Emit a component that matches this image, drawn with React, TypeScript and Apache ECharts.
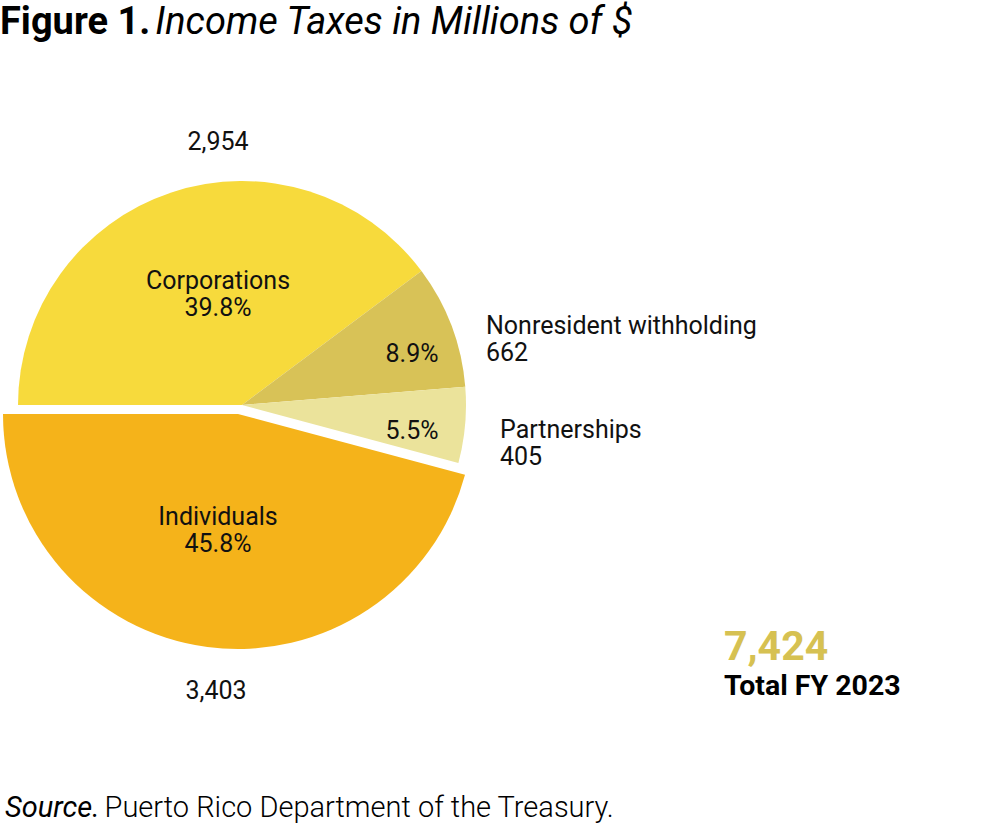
import React, { useEffect, useRef } from "react";
import * as echarts from "echarts";

const categories = ["Corporations", "Nonresident withholding", "Partnerships", "Individuals"];
const values = [2954, 662, 405, 3403];
const colors = ["#F7DA3C", "#D8C257", "#EBE39B", "#F5B31A"];
const totalLabel = "7,424";
const totalCaption = "Total FY 2023";

const FONT = "Roboto, 'Noto Sans', sans-serif";
const CENTER: [number, number] = [242, 405];
const CENTER_EX: [number, number] = [238, 414];
const R = 224;
const R_EX = 235;

// label anchors (layout only)
const insideAnchors: Record<number, [number, number]> = {
  0: [218, 294],
  1: [412, 353],
  2: [412, 430],
  3: [218, 530],
};
const outsideAnchors: Record<number, [number, number, string]> = {
  0: [218, 141, "center"],
  1: [486, 339, "left"],
  2: [500, 443, "left"],
  3: [216, 690, "center"],
};

const fmt = (v: number) => v.toLocaleString("en-US");

export default function App() {
  const ref = useRef<HTMLDivElement>(null);
  useEffect(() => {
    if (!ref.current) return;
    const chart = echarts.init(ref.current, null, { renderer: "svg" });
    const mk = (visibleIdx: number[]) =>
      categories.map((name, i) => ({
        name,
        value: values[i],
        itemStyle: { color: visibleIdx.includes(i) ? colors[i] : "rgba(0,0,0,0)" },
      }));
    const labelBase = {
      color: "#111",
      fontFamily: FONT,
      fontSize: 25,
      lineHeight: 27,
    };
    chart.setOption({
      animation: false,
      title: [
        {
          text: "{b|Figure 1.} {i|Income Taxes in Millions of $}",
          left: 0,
          top: 2,
          padding: 0,
          textStyle: {
            rich: {
              b: { fontFamily: FONT, fontWeight: "bold", fontSize: 38, color: "#000" },
              i: { fontFamily: FONT, fontStyle: "italic", fontWeight: "normal", fontSize: 38, color: "#000" },
            },
          },
        },
        {
          text: "{i|Source.} {r|Puerto Rico Department of the Treasury.}",
          left: 5,
          top: 792,
          padding: 0,
          textStyle: {
            rich: {
              i: { fontFamily: FONT, fontStyle: "italic", fontWeight: "normal", fontSize: 29, color: "#000" },
              r: { fontFamily: FONT, fontWeight: 300, fontSize: 29, color: "#000" },
            },
          },
        },
        {
          text: totalLabel,
          left: 724,
          top: 625,
          padding: 0,
          textStyle: { fontFamily: FONT, fontWeight: "bold", fontSize: 41, color: "#D6C152" },
        },
        {
          text: totalCaption,
          left: 724,
          top: 671,
          padding: 0,
          textStyle: { fontFamily: FONT, fontWeight: "bold", fontSize: 28.5, color: "#000" },
        },
      ],
      series: [
        {
          type: "pie",
          center: CENTER,
          radius: R,
          startAngle: 180,
          clockwise: true,
          percentPrecision: 1,
          silent: true,
          data: mk([0, 1, 2]),
          label: {
            show: true,
            position: "inside",
            ...labelBase,
            align: "center",
            formatter: (p: any) =>
              p.dataIndex === 3 ? "" : p.dataIndex === 0 ? `${p.name}\n${p.percent}%` : `${p.percent}%`,
          },
          labelLine: { show: false },
          labelLayout: (p: any) => {
            const a = insideAnchors[p.dataIndex];
            return { x: a[0], y: a[1], align: "center", verticalAlign: "middle" };
          },
        },
        {
          type: "pie",
          center: CENTER_EX,
          radius: R_EX,
          startAngle: 180,
          clockwise: true,
          percentPrecision: 1,
          silent: true,
          data: mk([3]),
          label: {
            show: true,
            position: "inside",
            ...labelBase,
            align: "center",
            formatter: (p: any) => (p.dataIndex === 3 ? `${p.name}\n${p.percent}%` : ""),
          },
          labelLine: { show: false },
          labelLayout: (p: any) => {
            const a = insideAnchors[p.dataIndex];
            return { x: a[0], y: a[1], align: "center", verticalAlign: "middle" };
          },
        },
        {
          type: "pie",
          center: CENTER,
          radius: R,
          startAngle: 180,
          clockwise: true,
          silent: true,
          data: mk([]),
          label: {
            show: true,
            position: "outside",
            ...labelBase,
            formatter: (p: any) =>
              p.dataIndex === 1 || p.dataIndex === 2 ? `${p.name}\n${fmt(p.value)}` : fmt(p.value),
          },
          labelLine: { show: false },
          labelLayout: (p: any) => {
            const a = outsideAnchors[p.dataIndex];
            return { x: a[0], y: a[1], align: a[2], verticalAlign: "middle" };
          },
        },
      ],
    });
    return () => chart.dispose();
  }, []);
  return (
    <div
      ref={ref}
      style={{ position: "fixed", left: 0, top: 0, width: 992, height: 829, background: "#fff" }}
    />
  );
}
